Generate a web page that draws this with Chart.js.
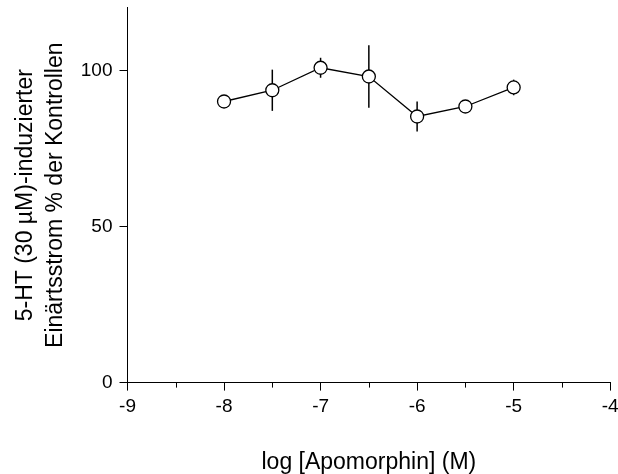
<!DOCTYPE html>
<html>
<head>
<meta charset="utf-8">
<script src="https://cdn.jsdelivr.net/npm/chart.js@4/dist/chart.umd.min.js"></script>
<style>
  html, body { margin: 0; padding: 0; background: #fff; }
  #wrap { width: 618px; height: 474px; position: relative; }
</style>
</head>
<body>
<div id="wrap"><canvas id="chart"></canvas></div>
<script>
// log concentration of apomorphine (M)
var logConc = [-8, -7.5, -7, -6.5, -6, -5.5, -5];
// 5-HT induced current, % of control
var current = [90, 93.6, 100.8, 98, 85.2, 88.4, 94.5];
// SEM (error bars)
var sem = [0, 6.6, 3.2, 10, 4.8, 0, 2.5];
var yTicks = [0, 50, 100];

var font = "'Liberation Sans', Arial, sans-serif";

var errorBars = {
  id: "errorBars",
  beforeDatasetsDraw: function (chart) {
    var ctx = chart.ctx;
    var xs = chart.scales.x, ys = chart.scales.y;
    ctx.save();
    ctx.strokeStyle = "#000";
    ctx.lineWidth = 1.5;
    for (var i = 0; i < logConc.length; i++) {
      if (!sem[i]) continue;
      var px = xs.getPixelForValue(logConc[i]);
      ctx.beginPath();
      ctx.moveTo(px, ys.getPixelForValue(current[i] - sem[i]));
      ctx.lineTo(px, ys.getPixelForValue(current[i] + sem[i]));
      ctx.stroke();
    }
    ctx.restore();
  }
};

// shorter tick marks between the labelled x ticks
var minorTicks = {
  id: "minorTicks",
  afterDraw: function (chart) {
    var ctx = chart.ctx;
    var xs = chart.scales.x;
    ctx.save();
    ctx.strokeStyle = "#000";
    ctx.lineWidth = 1;
    for (var v = xs.min + 0.5; v < xs.max; v += 1) {
      var px = Math.round(xs.getPixelForValue(v)) + 0.5;
      ctx.beginPath();
      ctx.moveTo(px, xs.top);
      ctx.lineTo(px, xs.top + 5);
      ctx.stroke();
    }
    ctx.restore();
  }
};

new Chart(document.getElementById("chart").getContext("2d"), {
  type: "scatter",
  data: {
    datasets: [{
      data: logConc.map(function (x, i) { return { x: x, y: current[i] }; }),
      showLine: true,
      borderColor: "#000",
      borderWidth: 1.3,
      pointRadius: 6.5,
      pointBorderWidth: 1.3,
      pointBackgroundColor: "#fff",
      pointBorderColor: "#000",
      tension: 0
    }]
  },
  options: {
    responsive: true,
    maintainAspectRatio: false,
    animation: false,
    layout: { padding: { top: 0, right: 6, left: 11, bottom: 0 } },
    plugins: { legend: { display: false }, tooltip: { enabled: false } },
    scales: {
      x: {
        type: "linear",
        min: -9,
        max: -4,
        afterFit: function (s) { s.paddingRight = 0; s.paddingLeft = 0; },
        ticks: { stepSize: 1, color: "#000", padding: 5, font: { family: font, size: 19 } },
        grid: { drawOnChartArea: false, drawTicks: true, tickLength: 8, color: "#000" },
        border: { display: true, color: "#000", width: 1 },
        title: {
          display: true,
          text: "log [Apomorphin] (M)",
          color: "#000",
          font: { family: font, size: 23 },
          padding: { top: 25, bottom: -2 }
        }
      },
      y: {
        min: 0,
        max: 120,
        afterFit: function (s) { s.paddingTop = 0; s.paddingBottom = 0; },
        afterBuildTicks: function (s) { s.ticks = yTicks.map(function (v) { return { value: v }; }); },
        ticks: { color: "#000", padding: 7, font: { family: font, size: 19 } },
        grid: { drawOnChartArea: false, drawTicks: true, tickLength: 8, color: "#000" },
        border: { display: true, color: "#000", width: 1 },
        title: {
          display: true,
          text: ["5-HT (30 \u00b5M)-induzierter", "Ein\u00e4rtsstrom % der Kontrollen"],
          color: "#000",
          font: { family: font, size: 23, lineHeight: 1.3 },
          padding: { top: 0, bottom: 3 }
        }
      }
    }
  },
  plugins: [errorBars, minorTicks]
});
</script>
</body>
</html>
